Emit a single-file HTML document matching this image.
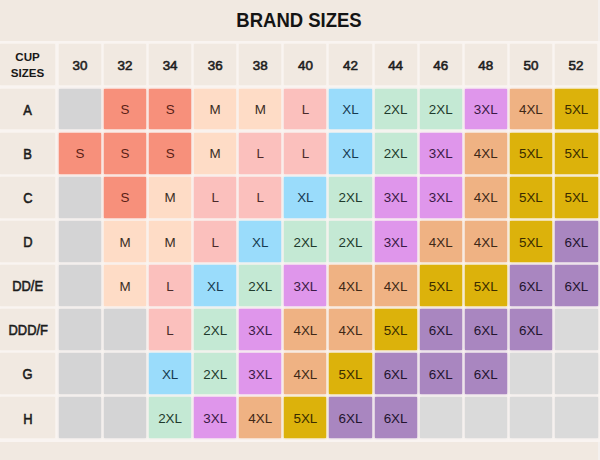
<!DOCTYPE html>
<html><head><meta charset="utf-8"><style>
html,body{margin:0;padding:0;}
body{width:600px;height:460px;background:#f1e9e1;position:relative;overflow:hidden;font-family:"Liberation Sans",sans-serif;}
.t{position:absolute;left:-0.8px;top:4px;width:600px;text-align:center;font-weight:bold;font-size:19.5px;line-height:32px;color:#141414;transform:scaleX(.948);}
.c{position:absolute;display:flex;align-items:center;justify-content:center;font-size:13.4px;box-sizing:border-box;padding-top:1.6px;}
.h{position:absolute;display:flex;align-items:center;justify-content:center;text-align:center;font-weight:bold;color:#181818;background:#f1e9e1;box-shadow:0 0 1.5px #f1e9e1;box-sizing:border-box;}
.rh{display:inline-block;transform:scaleX(.93);font-weight:normal;-webkit-text-stroke:.55px #1c1c1c;}
.ch{font-weight:normal;-webkit-text-stroke:.6px #1e1e1e;}
.wl{position:absolute;background:#f9f4f1;}
</style></head><body>
<div class="wl" style="left:598px;top:0;width:2px;height:460px;background:#f4f0ee"></div>
<div class="wl" style="left:0;top:41.2px;width:600px;height:400.8px"></div>
<div class="t">BRAND SIZES</div>
<div class="h" style="left:0;top:44.4px;width:55.2px;height:40.7px;font-size:11.6px;line-height:16px;padding-top:1px">CUP<br>SIZES</div>
<div class="h" style="left:58.80px;top:44.4px;width:42.2px;height:40.7px;font-size:13.4px;padding-top:1.5px;color:#1e1e1e"><span class="ch">30</span></div>
<div class="h" style="left:103.90px;top:44.4px;width:42.2px;height:40.7px;font-size:13.4px;padding-top:1.5px;color:#1e1e1e"><span class="ch">32</span></div>
<div class="h" style="left:149.00px;top:44.4px;width:42.2px;height:40.7px;font-size:13.4px;padding-top:1.5px;color:#1e1e1e"><span class="ch">34</span></div>
<div class="h" style="left:194.10px;top:44.4px;width:42.2px;height:40.7px;font-size:13.4px;padding-top:1.5px;color:#1e1e1e"><span class="ch">36</span></div>
<div class="h" style="left:239.20px;top:44.4px;width:42.2px;height:40.7px;font-size:13.4px;padding-top:1.5px;color:#1e1e1e"><span class="ch">38</span></div>
<div class="h" style="left:284.30px;top:44.4px;width:42.2px;height:40.7px;font-size:13.4px;padding-top:1.5px;color:#1e1e1e"><span class="ch">40</span></div>
<div class="h" style="left:329.40px;top:44.4px;width:42.2px;height:40.7px;font-size:13.4px;padding-top:1.5px;color:#1e1e1e"><span class="ch">42</span></div>
<div class="h" style="left:374.50px;top:44.4px;width:42.2px;height:40.7px;font-size:13.4px;padding-top:1.5px;color:#1e1e1e"><span class="ch">44</span></div>
<div class="h" style="left:419.60px;top:44.4px;width:42.2px;height:40.7px;font-size:13.4px;padding-top:1.5px;color:#1e1e1e"><span class="ch">46</span></div>
<div class="h" style="left:464.70px;top:44.4px;width:42.2px;height:40.7px;font-size:13.4px;padding-top:1.5px;color:#1e1e1e"><span class="ch">48</span></div>
<div class="h" style="left:509.80px;top:44.4px;width:42.2px;height:40.7px;font-size:13.4px;padding-top:1.5px;color:#1e1e1e"><span class="ch">50</span></div>
<div class="h" style="left:554.90px;top:44.4px;width:42.2px;height:40.7px;font-size:13.4px;padding-top:1.5px;color:#1e1e1e"><span class="ch">52</span></div>
<div class="h" style="left:0;top:88.70px;width:55.2px;height:40.8px;font-size:13.9px;padding-top:1.00px;padding-left:0.5px;color:#1c1c1c"><span class="rh">A</span></div>
<div class="c" style="left:58.80px;top:88.70px;width:42.2px;height:40.8px;background:#d4d4d5;box-shadow:0 0 2px #d4d4d5;color:#000"></div>
<div class="c" style="left:103.90px;top:88.70px;width:42.2px;height:40.8px;background:#f7907b;box-shadow:0 0 2px #f7907b;color:#5a1e16">S</div>
<div class="c" style="left:149.00px;top:88.70px;width:42.2px;height:40.8px;background:#f7907b;box-shadow:0 0 2px #f7907b;color:#5a1e16">S</div>
<div class="c" style="left:194.10px;top:88.70px;width:42.2px;height:40.8px;background:#fedcc6;box-shadow:0 0 2px #fedcc6;color:#3a2c24">M</div>
<div class="c" style="left:239.20px;top:88.70px;width:42.2px;height:40.8px;background:#fedcc6;box-shadow:0 0 2px #fedcc6;color:#3a2c24">M</div>
<div class="c" style="left:284.30px;top:88.70px;width:42.2px;height:40.8px;background:#fbc0bd;box-shadow:0 0 2px #fbc0bd;color:#4a2a2a">L</div>
<div class="c" style="left:329.40px;top:88.70px;width:42.2px;height:40.8px;background:#9adcfb;box-shadow:0 0 2px #9adcfb;color:#163a50">XL</div>
<div class="c" style="left:374.50px;top:88.70px;width:42.2px;height:40.8px;background:#c4e9d4;box-shadow:0 0 2px #c4e9d4;color:#1e3a2c">2XL</div>
<div class="c" style="left:419.60px;top:88.70px;width:42.2px;height:40.8px;background:#c4e9d4;box-shadow:0 0 2px #c4e9d4;color:#1e3a2c">2XL</div>
<div class="c" style="left:464.70px;top:88.70px;width:42.2px;height:40.8px;background:#df96eb;box-shadow:0 0 2px #df96eb;color:#3a1a45">3XL</div>
<div class="c" style="left:509.80px;top:88.70px;width:42.2px;height:40.8px;background:#efb283;box-shadow:0 0 2px #efb283;color:#3e2816">4XL</div>
<div class="c" style="left:554.90px;top:88.70px;width:43.0px;height:40.8px;background:#dcb20b;box-shadow:0 0 2px #dcb20b;color:#3a2c00">5XL</div>
<div class="h" style="left:0;top:132.75px;width:55.2px;height:40.8px;font-size:13.9px;padding-top:1.16px;padding-left:0.5px;color:#1c1c1c"><span class="rh">B</span></div>
<div class="c" style="left:58.80px;top:132.75px;width:42.2px;height:40.8px;background:#f7907b;box-shadow:0 0 2px #f7907b;color:#5a1e16">S</div>
<div class="c" style="left:103.90px;top:132.75px;width:42.2px;height:40.8px;background:#f7907b;box-shadow:0 0 2px #f7907b;color:#5a1e16">S</div>
<div class="c" style="left:149.00px;top:132.75px;width:42.2px;height:40.8px;background:#f7907b;box-shadow:0 0 2px #f7907b;color:#5a1e16">S</div>
<div class="c" style="left:194.10px;top:132.75px;width:42.2px;height:40.8px;background:#fedcc6;box-shadow:0 0 2px #fedcc6;color:#3a2c24">M</div>
<div class="c" style="left:239.20px;top:132.75px;width:42.2px;height:40.8px;background:#fbc0bd;box-shadow:0 0 2px #fbc0bd;color:#4a2a2a">L</div>
<div class="c" style="left:284.30px;top:132.75px;width:42.2px;height:40.8px;background:#fbc0bd;box-shadow:0 0 2px #fbc0bd;color:#4a2a2a">L</div>
<div class="c" style="left:329.40px;top:132.75px;width:42.2px;height:40.8px;background:#9adcfb;box-shadow:0 0 2px #9adcfb;color:#163a50">XL</div>
<div class="c" style="left:374.50px;top:132.75px;width:42.2px;height:40.8px;background:#c4e9d4;box-shadow:0 0 2px #c4e9d4;color:#1e3a2c">2XL</div>
<div class="c" style="left:419.60px;top:132.75px;width:42.2px;height:40.8px;background:#df96eb;box-shadow:0 0 2px #df96eb;color:#3a1a45">3XL</div>
<div class="c" style="left:464.70px;top:132.75px;width:42.2px;height:40.8px;background:#efb283;box-shadow:0 0 2px #efb283;color:#3e2816">4XL</div>
<div class="c" style="left:509.80px;top:132.75px;width:42.2px;height:40.8px;background:#dcb20b;box-shadow:0 0 2px #dcb20b;color:#3a2c00">5XL</div>
<div class="c" style="left:554.90px;top:132.75px;width:43.0px;height:40.8px;background:#dcb20b;box-shadow:0 0 2px #dcb20b;color:#3a2c00">5XL</div>
<div class="h" style="left:0;top:176.80px;width:55.2px;height:40.8px;font-size:13.9px;padding-top:1.32px;padding-left:0.5px;color:#1c1c1c"><span class="rh">C</span></div>
<div class="c" style="left:58.80px;top:176.80px;width:42.2px;height:40.8px;background:#d4d4d5;box-shadow:0 0 2px #d4d4d5;color:#000"></div>
<div class="c" style="left:103.90px;top:176.80px;width:42.2px;height:40.8px;background:#f7907b;box-shadow:0 0 2px #f7907b;color:#5a1e16">S</div>
<div class="c" style="left:149.00px;top:176.80px;width:42.2px;height:40.8px;background:#fedcc6;box-shadow:0 0 2px #fedcc6;color:#3a2c24">M</div>
<div class="c" style="left:194.10px;top:176.80px;width:42.2px;height:40.8px;background:#fbc0bd;box-shadow:0 0 2px #fbc0bd;color:#4a2a2a">L</div>
<div class="c" style="left:239.20px;top:176.80px;width:42.2px;height:40.8px;background:#fbc0bd;box-shadow:0 0 2px #fbc0bd;color:#4a2a2a">L</div>
<div class="c" style="left:284.30px;top:176.80px;width:42.2px;height:40.8px;background:#9adcfb;box-shadow:0 0 2px #9adcfb;color:#163a50">XL</div>
<div class="c" style="left:329.40px;top:176.80px;width:42.2px;height:40.8px;background:#c4e9d4;box-shadow:0 0 2px #c4e9d4;color:#1e3a2c">2XL</div>
<div class="c" style="left:374.50px;top:176.80px;width:42.2px;height:40.8px;background:#df96eb;box-shadow:0 0 2px #df96eb;color:#3a1a45">3XL</div>
<div class="c" style="left:419.60px;top:176.80px;width:42.2px;height:40.8px;background:#df96eb;box-shadow:0 0 2px #df96eb;color:#3a1a45">3XL</div>
<div class="c" style="left:464.70px;top:176.80px;width:42.2px;height:40.8px;background:#efb283;box-shadow:0 0 2px #efb283;color:#3e2816">4XL</div>
<div class="c" style="left:509.80px;top:176.80px;width:42.2px;height:40.8px;background:#dcb20b;box-shadow:0 0 2px #dcb20b;color:#3a2c00">5XL</div>
<div class="c" style="left:554.90px;top:176.80px;width:43.0px;height:40.8px;background:#dcb20b;box-shadow:0 0 2px #dcb20b;color:#3a2c00">5XL</div>
<div class="h" style="left:0;top:220.85px;width:55.2px;height:40.8px;font-size:13.9px;padding-top:1.48px;padding-left:0.5px;color:#1c1c1c"><span class="rh">D</span></div>
<div class="c" style="left:58.80px;top:220.85px;width:42.2px;height:40.8px;background:#d4d4d5;box-shadow:0 0 2px #d4d4d5;color:#000"></div>
<div class="c" style="left:103.90px;top:220.85px;width:42.2px;height:40.8px;background:#fedcc6;box-shadow:0 0 2px #fedcc6;color:#3a2c24">M</div>
<div class="c" style="left:149.00px;top:220.85px;width:42.2px;height:40.8px;background:#fedcc6;box-shadow:0 0 2px #fedcc6;color:#3a2c24">M</div>
<div class="c" style="left:194.10px;top:220.85px;width:42.2px;height:40.8px;background:#fbc0bd;box-shadow:0 0 2px #fbc0bd;color:#4a2a2a">L</div>
<div class="c" style="left:239.20px;top:220.85px;width:42.2px;height:40.8px;background:#9adcfb;box-shadow:0 0 2px #9adcfb;color:#163a50">XL</div>
<div class="c" style="left:284.30px;top:220.85px;width:42.2px;height:40.8px;background:#c4e9d4;box-shadow:0 0 2px #c4e9d4;color:#1e3a2c">2XL</div>
<div class="c" style="left:329.40px;top:220.85px;width:42.2px;height:40.8px;background:#c4e9d4;box-shadow:0 0 2px #c4e9d4;color:#1e3a2c">2XL</div>
<div class="c" style="left:374.50px;top:220.85px;width:42.2px;height:40.8px;background:#df96eb;box-shadow:0 0 2px #df96eb;color:#3a1a45">3XL</div>
<div class="c" style="left:419.60px;top:220.85px;width:42.2px;height:40.8px;background:#efb283;box-shadow:0 0 2px #efb283;color:#3e2816">4XL</div>
<div class="c" style="left:464.70px;top:220.85px;width:42.2px;height:40.8px;background:#efb283;box-shadow:0 0 2px #efb283;color:#3e2816">4XL</div>
<div class="c" style="left:509.80px;top:220.85px;width:42.2px;height:40.8px;background:#dcb20b;box-shadow:0 0 2px #dcb20b;color:#3a2c00">5XL</div>
<div class="c" style="left:554.90px;top:220.85px;width:43.0px;height:40.8px;background:#a986c0;box-shadow:0 0 2px #a986c0;color:#22142e">6XL</div>
<div class="h" style="left:0;top:264.90px;width:55.2px;height:40.8px;font-size:13.9px;padding-top:1.64px;padding-left:0.5px;color:#1c1c1c"><span class="rh">DD/E</span></div>
<div class="c" style="left:58.80px;top:264.90px;width:42.2px;height:40.8px;background:#d4d4d5;box-shadow:0 0 2px #d4d4d5;color:#000"></div>
<div class="c" style="left:103.90px;top:264.90px;width:42.2px;height:40.8px;background:#fedcc6;box-shadow:0 0 2px #fedcc6;color:#3a2c24">M</div>
<div class="c" style="left:149.00px;top:264.90px;width:42.2px;height:40.8px;background:#fbc0bd;box-shadow:0 0 2px #fbc0bd;color:#4a2a2a">L</div>
<div class="c" style="left:194.10px;top:264.90px;width:42.2px;height:40.8px;background:#9adcfb;box-shadow:0 0 2px #9adcfb;color:#163a50">XL</div>
<div class="c" style="left:239.20px;top:264.90px;width:42.2px;height:40.8px;background:#c4e9d4;box-shadow:0 0 2px #c4e9d4;color:#1e3a2c">2XL</div>
<div class="c" style="left:284.30px;top:264.90px;width:42.2px;height:40.8px;background:#df96eb;box-shadow:0 0 2px #df96eb;color:#3a1a45">3XL</div>
<div class="c" style="left:329.40px;top:264.90px;width:42.2px;height:40.8px;background:#efb283;box-shadow:0 0 2px #efb283;color:#3e2816">4XL</div>
<div class="c" style="left:374.50px;top:264.90px;width:42.2px;height:40.8px;background:#efb283;box-shadow:0 0 2px #efb283;color:#3e2816">4XL</div>
<div class="c" style="left:419.60px;top:264.90px;width:42.2px;height:40.8px;background:#dcb20b;box-shadow:0 0 2px #dcb20b;color:#3a2c00">5XL</div>
<div class="c" style="left:464.70px;top:264.90px;width:42.2px;height:40.8px;background:#dcb20b;box-shadow:0 0 2px #dcb20b;color:#3a2c00">5XL</div>
<div class="c" style="left:509.80px;top:264.90px;width:42.2px;height:40.8px;background:#a986c0;box-shadow:0 0 2px #a986c0;color:#22142e">6XL</div>
<div class="c" style="left:554.90px;top:264.90px;width:43.0px;height:40.8px;background:#a986c0;box-shadow:0 0 2px #a986c0;color:#22142e">6XL</div>
<div class="h" style="left:0;top:308.95px;width:55.2px;height:40.8px;font-size:13.9px;padding-top:1.80px;padding-left:0.5px;color:#1c1c1c"><span class="rh">DDD/F</span></div>
<div class="c" style="left:58.80px;top:308.95px;width:42.2px;height:40.8px;background:#d4d4d5;box-shadow:0 0 2px #d4d4d5;color:#000"></div>
<div class="c" style="left:103.90px;top:308.95px;width:42.2px;height:40.8px;background:#d4d4d5;box-shadow:0 0 2px #d4d4d5;color:#000"></div>
<div class="c" style="left:149.00px;top:308.95px;width:42.2px;height:40.8px;background:#fbc0bd;box-shadow:0 0 2px #fbc0bd;color:#4a2a2a">L</div>
<div class="c" style="left:194.10px;top:308.95px;width:42.2px;height:40.8px;background:#c4e9d4;box-shadow:0 0 2px #c4e9d4;color:#1e3a2c">2XL</div>
<div class="c" style="left:239.20px;top:308.95px;width:42.2px;height:40.8px;background:#df96eb;box-shadow:0 0 2px #df96eb;color:#3a1a45">3XL</div>
<div class="c" style="left:284.30px;top:308.95px;width:42.2px;height:40.8px;background:#efb283;box-shadow:0 0 2px #efb283;color:#3e2816">4XL</div>
<div class="c" style="left:329.40px;top:308.95px;width:42.2px;height:40.8px;background:#efb283;box-shadow:0 0 2px #efb283;color:#3e2816">4XL</div>
<div class="c" style="left:374.50px;top:308.95px;width:42.2px;height:40.8px;background:#dcb20b;box-shadow:0 0 2px #dcb20b;color:#3a2c00">5XL</div>
<div class="c" style="left:419.60px;top:308.95px;width:42.2px;height:40.8px;background:#a986c0;box-shadow:0 0 2px #a986c0;color:#22142e">6XL</div>
<div class="c" style="left:464.70px;top:308.95px;width:42.2px;height:40.8px;background:#a986c0;box-shadow:0 0 2px #a986c0;color:#22142e">6XL</div>
<div class="c" style="left:509.80px;top:308.95px;width:42.2px;height:40.8px;background:#a986c0;box-shadow:0 0 2px #a986c0;color:#22142e">6XL</div>
<div class="c" style="left:554.90px;top:308.95px;width:43.0px;height:40.8px;background:#dadada;box-shadow:0 0 2px #dadada;color:#000"></div>
<div class="h" style="left:0;top:353.00px;width:55.2px;height:40.8px;font-size:13.9px;padding-top:1.96px;padding-left:0.5px;color:#1c1c1c"><span class="rh">G</span></div>
<div class="c" style="left:58.80px;top:353.00px;width:42.2px;height:40.8px;background:#d4d4d5;box-shadow:0 0 2px #d4d4d5;color:#000"></div>
<div class="c" style="left:103.90px;top:353.00px;width:42.2px;height:40.8px;background:#d4d4d5;box-shadow:0 0 2px #d4d4d5;color:#000"></div>
<div class="c" style="left:149.00px;top:353.00px;width:42.2px;height:40.8px;background:#9adcfb;box-shadow:0 0 2px #9adcfb;color:#163a50">XL</div>
<div class="c" style="left:194.10px;top:353.00px;width:42.2px;height:40.8px;background:#c4e9d4;box-shadow:0 0 2px #c4e9d4;color:#1e3a2c">2XL</div>
<div class="c" style="left:239.20px;top:353.00px;width:42.2px;height:40.8px;background:#df96eb;box-shadow:0 0 2px #df96eb;color:#3a1a45">3XL</div>
<div class="c" style="left:284.30px;top:353.00px;width:42.2px;height:40.8px;background:#efb283;box-shadow:0 0 2px #efb283;color:#3e2816">4XL</div>
<div class="c" style="left:329.40px;top:353.00px;width:42.2px;height:40.8px;background:#dcb20b;box-shadow:0 0 2px #dcb20b;color:#3a2c00">5XL</div>
<div class="c" style="left:374.50px;top:353.00px;width:42.2px;height:40.8px;background:#a986c0;box-shadow:0 0 2px #a986c0;color:#22142e">6XL</div>
<div class="c" style="left:419.60px;top:353.00px;width:42.2px;height:40.8px;background:#a986c0;box-shadow:0 0 2px #a986c0;color:#22142e">6XL</div>
<div class="c" style="left:464.70px;top:353.00px;width:42.2px;height:40.8px;background:#a986c0;box-shadow:0 0 2px #a986c0;color:#22142e">6XL</div>
<div class="c" style="left:509.80px;top:353.00px;width:42.2px;height:40.8px;background:#dadada;box-shadow:0 0 2px #dadada;color:#000"></div>
<div class="c" style="left:554.90px;top:353.00px;width:43.0px;height:40.8px;background:#dadada;box-shadow:0 0 2px #dadada;color:#000"></div>
<div class="h" style="left:0;top:397.05px;width:55.2px;height:40.8px;font-size:13.9px;padding-top:2.12px;padding-left:0.5px;color:#1c1c1c"><span class="rh">H</span></div>
<div class="c" style="left:58.80px;top:397.05px;width:42.2px;height:40.8px;background:#d4d4d5;box-shadow:0 0 2px #d4d4d5;color:#000"></div>
<div class="c" style="left:103.90px;top:397.05px;width:42.2px;height:40.8px;background:#d4d4d5;box-shadow:0 0 2px #d4d4d5;color:#000"></div>
<div class="c" style="left:149.00px;top:397.05px;width:42.2px;height:40.8px;background:#c4e9d4;box-shadow:0 0 2px #c4e9d4;color:#1e3a2c">2XL</div>
<div class="c" style="left:194.10px;top:397.05px;width:42.2px;height:40.8px;background:#df96eb;box-shadow:0 0 2px #df96eb;color:#3a1a45">3XL</div>
<div class="c" style="left:239.20px;top:397.05px;width:42.2px;height:40.8px;background:#efb283;box-shadow:0 0 2px #efb283;color:#3e2816">4XL</div>
<div class="c" style="left:284.30px;top:397.05px;width:42.2px;height:40.8px;background:#dcb20b;box-shadow:0 0 2px #dcb20b;color:#3a2c00">5XL</div>
<div class="c" style="left:329.40px;top:397.05px;width:42.2px;height:40.8px;background:#a986c0;box-shadow:0 0 2px #a986c0;color:#22142e">6XL</div>
<div class="c" style="left:374.50px;top:397.05px;width:42.2px;height:40.8px;background:#a986c0;box-shadow:0 0 2px #a986c0;color:#22142e">6XL</div>
<div class="c" style="left:419.60px;top:397.05px;width:42.2px;height:40.8px;background:#dadada;box-shadow:0 0 2px #dadada;color:#000"></div>
<div class="c" style="left:464.70px;top:397.05px;width:42.2px;height:40.8px;background:#dadada;box-shadow:0 0 2px #dadada;color:#000"></div>
<div class="c" style="left:509.80px;top:397.05px;width:42.2px;height:40.8px;background:#dadada;box-shadow:0 0 2px #dadada;color:#000"></div>
<div class="c" style="left:554.90px;top:397.05px;width:43.0px;height:40.8px;background:#dadada;box-shadow:0 0 2px #dadada;color:#000"></div>
</body></html>
